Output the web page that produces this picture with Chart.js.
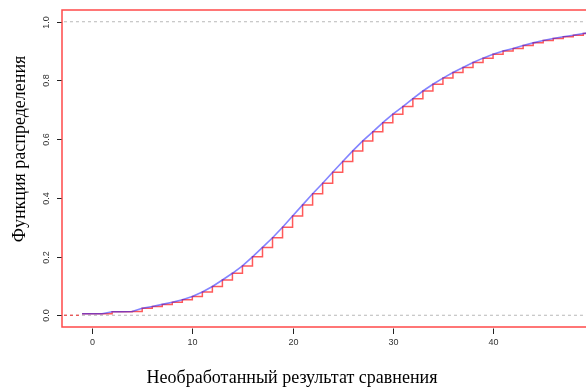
<!DOCTYPE html>
<html>
<head>
<meta charset="utf-8">
<style>
  html, body { margin: 0; padding: 0; background: #fff; overflow: hidden; }
  #wrap { width: 586px; height: 388px; position: relative; }
</style>
<script src="https://cdn.jsdelivr.net/npm/chart.js"></script>
</head>
<body>
<div id="wrap"><canvas id="c" width="586" height="388"></canvas></div>
<script>
// ---- data ----
const xValues = [-1,0,1,2,3,4,5,6,7,8,9,10,11,12,13,14,15,16,17,18,19,20,21,22,23,24,25,26,27,28,29,30,31,32,33,34,35,36,37,38,39,40,41,42,43,44,45,46,47,48,49,50];
const cdfValues = [0.005,0.005,0.005,0.012,0.012,0.013,0.024,0.030,0.037,0.044,0.053,0.064,0.079,0.098,0.120,0.143,0.168,0.199,0.231,0.264,0.300,0.338,0.376,0.414,0.450,0.487,0.524,0.560,0.594,0.625,0.656,0.685,0.711,0.738,0.764,0.787,0.808,0.827,0.844,0.861,0.876,0.889,0.900,0.909,0.919,0.928,0.936,0.943,0.949,0.954,0.960,0.964];
const xTicks = [0, 10, 20, 30, 40];
const yTicks = [0.0, 0.2, 0.4, 0.6, 0.8, 1.0];
const xTitle = 'Необработанный результат сравнения';
const yTitle = 'Функция распределения';

const pts = xValues.map((x, i) => ({ x: x, y: cdfValues[i] }));
const stepPts = pts.concat([{ x: 52, y: cdfValues[cdfValues.length - 1] }]);

const axesPlugin = {
  id: 'rAxes',
  afterDraw(chart) {
    const ctx = chart.ctx;
    const a = chart.chartArea;
    const xs = chart.scales.x, ys = chart.scales.y;
    ctx.save();
    // box (red)
    ctx.strokeStyle = '#ff4a4a';
    ctx.lineWidth = 1.5;
    ctx.beginPath();
    ctx.moveTo(a.right + 2, a.top);
    ctx.lineTo(a.left, a.top);
    ctx.lineTo(a.left, a.bottom);
    ctx.lineTo(a.right + 2, a.bottom);
    ctx.stroke();
    // ticks
    ctx.strokeStyle = '#222';
    ctx.lineWidth = 1;
    ctx.fillStyle = '#333';
    ctx.font = '9px "Liberation Sans", Arial, sans-serif';
    ctx.textAlign = 'center';
    ctx.textBaseline = 'middle';
    xTicks.forEach(v => {
      const px = Math.round(xs.getPixelForValue(v)) + 0.5;
      ctx.beginPath();
      ctx.moveTo(px, a.bottom + 1.5);
      ctx.lineTo(px, a.bottom + 7);
      ctx.stroke();
      ctx.fillText(String(v), px, a.bottom + 16);
    });
    yTicks.forEach(v => {
      const py = Math.round(ys.getPixelForValue(v)) + 0.5;
      ctx.beginPath();
      ctx.moveTo(a.left - 5, py);
      ctx.lineTo(a.left - 0.5, py);
      ctx.stroke();
      ctx.save();
      ctx.translate(a.left - 15, py);
      ctx.rotate(-Math.PI / 2);
      ctx.fillText(v.toFixed(1), 0, 0);
      ctx.restore();
    });
    // titles
    ctx.fillStyle = '#000';
    ctx.font = '18px "Liberation Serif", "Times New Roman", serif';
    ctx.textBaseline = 'alphabetic';
    ctx.fillText(xTitle, 292, 383);
    ctx.save();
    ctx.translate(25, 149);
    ctx.rotate(-Math.PI / 2);
    ctx.fillText(yTitle, 0, 0);
    ctx.restore();
    ctx.restore();
  }
};

new Chart(document.getElementById('c'), {
  type: 'scatter',
  data: {
    datasets: [
      {
        label: 'cdf',
        data: pts,
        showLine: true,
        borderColor: 'rgba(30,30,255,0.55)',
        borderWidth: 1.6,
        pointRadius: 0,
        order: 0
      },
      {
        label: 'ecdf',
        data: stepPts,
        showLine: true,
        stepped: true,
        borderColor: 'rgba(255,0,0,0.65)',
        borderWidth: 1.5,
        pointRadius: 0,
        order: 1
      },
      {
        label: 'ecdf-left',
        data: [{ x: -4, y: 0 }, { x: -1, y: 0 }],
        showLine: true,
        borderColor: 'rgba(255,0,0,0.65)',
        borderWidth: 1.2,
        borderDash: [3, 3],
        pointRadius: 0,
        order: 2
      },
      {
        label: 'h0',
        data: [{ x: -4, y: 0 }, { x: 53, y: 0 }],
        showLine: true,
        borderColor: '#b8b8b8',
        borderWidth: 1,
        borderDash: [3, 3],
        pointRadius: 0,
        order: 3
      },
      {
        label: 'h1',
        data: [{ x: -4, y: 1 }, { x: 53, y: 1 }],
        showLine: true,
        borderColor: '#b8b8b8',
        borderWidth: 1,
        borderDash: [3, 3],
        pointRadius: 0,
        order: 3
      }
    ]
  },
  options: {
    responsive: false,
    animation: false,
    layout: { padding: { left: 62, top: 10, right: 0, bottom: 61 } },
    plugins: { legend: { display: false }, tooltip: { enabled: false } },
    scales: {
      x: { type: 'linear', min: -3, max: 49.27, display: false },
      y: { type: 'linear', min: -0.04, max: 1.04, display: false }
    }
  },
  plugins: [axesPlugin]
});
</script>
</body>
</html>
